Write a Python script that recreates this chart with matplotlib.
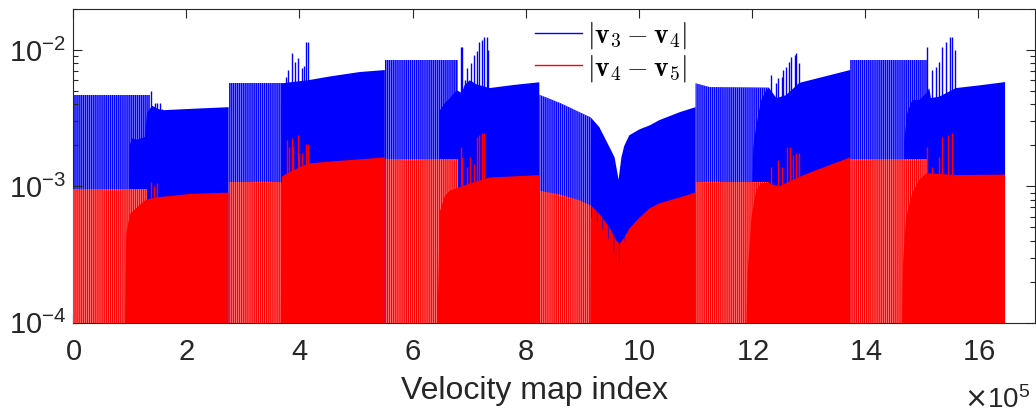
import numpy as np
import matplotlib
matplotlib.use("Agg")
import matplotlib.pyplot as plt
from matplotlib.lines import Line2D
from matplotlib.ticker import ScalarFormatter

plt.rcParams['font.family'] = ['Liberation Sans', 'DejaVu Sans']
plt.rcParams['hatch.linewidth'] = 0.5

nan = np.nan
X_UNIT = 1e5  # x positions below are read in units of 1e5

# ---------- |v3 - v4| (blue) ----------
# sparse spike bands (upper edge), nan separates the segments
blue_stripe_x = [0.0, 1.36, nan, 2.75, 3.69, nan, 5.51, 6.80, nan,
                 8.24, 8.60, 8.95, 9.15, nan, 11.0, 11.25, 12.30, nan, 13.73, 15.09]
blue_stripe_top = [4.7e-3, 4.7e-3, nan, 5.75e-3, 5.75e-3, nan, 8.5e-3, 8.5e-3, nan,
                   4.7e-3, 4.1e-3, 3.5e-3, 3.2e-3, nan, 5.7e-3, 5.35e-3, 5.3e-3, nan, 8.5e-3, 8.5e-3]

# dense band (upper edge)
blue_solid_x = [0.96, 1.00, 1.04, 1.13, 1.27, 1.31, 1.40, 1.50, 1.59, 2.07, 2.75, nan,
                3.67, 3.69, 4.15, 4.54, 5.07, 5.51, nan,
                6.44, 6.48, 6.57, 6.66, 6.78, 6.87, 6.92, 7.01, 7.13, 7.36, 7.80, 8.24, nan,
                9.14, 9.15, 9.30, 9.48, 9.57, 9.64, 9.69, 9.74, 9.83, 10.01, 10.19, 10.36, 10.72, 11.0, nan,
                11.90, 11.92, 11.99, 12.02, 12.07, 12.16, 12.25, 12.30, 12.43, 12.60, 12.83, 12.89, 13.24, 13.73, nan,
                14.65, 14.67, 14.69, 14.74, 14.83, 14.95, 15.08, 15.13, 15.16, 15.31, 15.43, 15.60, 16.01, 16.47]
blue_solid_top = [1e-4, 2.0e-3, 2.25e-3, 2.2e-3, 2.3e-3, 3.5e-3, 3.9e-3, 3.7e-3, 3.62e-3, 3.7e-3, 3.81e-3, nan,
                  1e-4, 5.7e-3, 6.0e-3, 6.4e-3, 6.9e-3, 7.13e-3, nan,
                  1e-4, 3.6e-3, 4.08e-3, 4.44e-3, 5.08e-3, 4.83e-3, 5.53e-3, 6.0e-3, 5.6e-3, 5.26e-3, 5.55e-3, 5.8e-3, nan,
                  1e-4, 3.2e-3, 2.72e-3, 1.94e-3, 1.63e-3, 1.12e-3, 1.63e-3, 1.98e-3, 2.37e-3, 2.62e-3, 2.8e-3, 3.06e-3, 3.5e-3, 3.81e-3, nan,
                  1e-4, 2.3e-4, 7.0e-4, 1.94e-3, 2.72e-3, 4.29e-3, 5.08e-3, 5.26e-3, 4.44e-3, 4.67e-3, 5.72e-3, 5.82e-3, 6.33e-3, 7.13e-3, nan,
                  1e-4, 4.5e-4, 2.18e-3, 3.44e-3, 4.29e-3, 4.29e-3, 4.83e-3, 5.26e-3, 4.44e-3, 4.55e-3, 4.83e-3, 5.26e-3, 5.5e-3, 5.82e-3]

# isolated tall spikes in the transitions
blue_spike_x = [1.37, 1.45, 1.49, 1.54, 1.57,
                3.76, 3.80, 3.87, 3.92, 3.97, 4.04, 4.08, 4.11, 4.15,
                6.85, 6.88, 6.92, 6.97, 7.04, 7.08, 7.13, 7.17, 7.22, 7.26, 7.31, 7.34,
                12.34, 12.43, 12.46, 12.52, 12.55, 12.60, 12.66, 12.69, 12.75, 12.78, 12.82,
                15.09, 15.18, 15.25, 15.30, 15.36, 15.43, 15.50, 15.53, 15.59]
blue_spike_top = [5.0e-3, 4.1e-3, 4.1e-3, 4.1e-3, 3.7e-3,
                  6.33e-3, 7.13e-3, 9.5e-3, 8.2e-3, 8.8e-3, 7.37e-3, 7.7e-3, 1.145e-2, 1.145e-2,
                  1.05e-2, 1.05e-2, 6.0e-3, 7.37e-3, 8.02e-3, 9.2e-3, 9.85e-3, 1.145e-2, 1.18e-2, 1.25e-2, 1.25e-2, 1.0e-2,
                  6.55e-3, 5.72e-3, 6.2e-3, 6.33e-3, 7.13e-3, 7.5e-3, 8.2e-3, 8.9e-3, 9.2e-3, 9.5e-3, 8.0e-3,
                  1.05e-2, 7.13e-3, 7.5e-3, 8.2e-3, 1.05e-2, 1.145e-2, 1.25e-2, 1.25e-2, 1.0e-2]

# blue reaching below the red band around the dip
blue_dip_x = [9.14, 9.30, 9.48, 9.60, 9.64, 9.70, 9.76]
blue_dip_top = [7.25e-4, 6.3e-4, 5.0e-4, 4.0e-4, 3.9e-4, 4.1e-4, 4.3e-4]
blue_dip_low = [6.0e-4, 5.3e-4, 4.0e-4, 3.0e-4, 2.6e-4, 3.3e-4, 4.2e-4]

# ---------- |v4 - v5| (red) ----------
red_stripe_x = [0.0, 1.31, nan, 2.75, 3.69, nan, 5.51, 6.80, nan,
                8.24, 8.60, 8.95, 9.15, nan, 11.0, 12.30, nan, 13.73, 15.09]
red_stripe_top = [9.5e-4, 9.5e-4, nan, 1.07e-3, 1.07e-3, nan, 1.6e-3, 1.6e-3, nan,
                  9.3e-4, 8.7e-4, 7.9e-4, 7.25e-4, nan, 1.07e-3, 1.07e-3, nan, 1.6e-3, 1.6e-3]

red_solid_x = [0.92, 0.94, 1.01, 1.13, 1.27, 1.36, 1.48, 2.07, 2.75, nan,
               3.67, 3.69, 3.87, 4.15, 4.54, 5.07, 5.51, nan,
               6.44, 6.48, 6.57, 6.66, 6.87, 7.01, 7.36, 8.24, nan,
               9.14, 9.15, 9.30, 9.48, 9.60, 9.66, 9.74, 9.83, 10.01, 10.19, 10.36, 10.72, 11.0, nan,
               11.90, 11.92, 11.99, 12.07, 12.16, 12.27, 12.36, 12.48, 12.87, 13.06, 13.73, nan,
               14.65, 14.67, 14.72, 14.83, 14.95, 15.08, 15.60, 16.47]
red_solid_top = [1e-4, 4.5e-4, 6.3e-4, 7.0e-4, 7.9e-4, 8.1e-4, 8.3e-4, 8.8e-4, 9.0e-4, nan,
                 1e-4, 1.18e-3, 1.3e-3, 1.47e-3, 1.52e-3, 1.58e-3, 1.63e-3, nan,
                 1e-4, 6.5e-4, 8.5e-4, 9.3e-4, 1.0e-3, 1.05e-3, 1.16e-3, 1.21e-3, nan,
                 1e-4, 7.25e-4, 6.3e-4, 5.0e-4, 4.0e-4, 3.8e-4, 4.2e-4, 4.9e-4, 5.9e-4, 6.9e-4, 7.5e-4, 8.3e-4, 9.0e-4, nan,
                 1e-4, 2.3e-4, 6.0e-4, 9.3e-4, 1.05e-3, 1.07e-3, 1.03e-3, 1.0e-3, 1.19e-3, 1.28e-3, 1.63e-3, nan,
                 1e-4, 2.9e-4, 5.9e-4, 8.9e-4, 1.11e-3, 1.25e-3, 1.21e-3, 1.22e-3]

red_spike_x = [1.37, 1.43, 1.48,
               3.78, 3.82, 3.87, 3.89, 3.97, 3.99, 4.04, 4.11, 4.15,
               6.85, 6.88, 6.96, 7.01, 7.08, 7.13, 7.17, 7.22, 7.27,
               12.34, 12.46, 12.52, 12.62, 12.67, 12.73, 12.78, 12.82,
               15.09, 15.18, 15.30, 15.36, 15.46, 15.53]
red_spike_top = [1.07e-3, 1.0e-3, 1.05e-3,
                 2.18e-3, 1.94e-3, 2.25e-3, 1.97e-3, 2.37e-3, 1.75e-3, 1.75e-3, 2.06e-3, 2.06e-3,
                 1.94e-3, 1.63e-3, 1.38e-3, 1.63e-3, 1.45e-3, 2.3e-3, 2.37e-3, 2.45e-3, 2.45e-3,
                 1.38e-3, 1.55e-3, 1.38e-3, 1.94e-3, 1.94e-3, 1.7e-3, 1.75e-3, 1.75e-3,
                 1.94e-3, 1.38e-3, 1.63e-3, 2.3e-3, 2.37e-3, 2.45e-3]

labels = [r'$|\mathbf{v}_3-\mathbf{v}_4|$', r'$|\mathbf{v}_4-\mathbf{v}_5|$']

BOTTOM = 1e-5
STRIPES = '|' * 8
INK = '#262626'


def xs(vals):
    return np.array(vals, dtype=float) * X_UNIT


fig = plt.figure(figsize=(10.36, 4.16), dpi=100)
ax = fig.add_axes([0.0705, 0.2243, 0.9286, 0.7541])

# blue series
ax.fill_between(xs(blue_stripe_x), BOTTOM, blue_stripe_top, facecolor='blue',
                edgecolor='#9a9aff', hatch=STRIPES, linewidth=0, zorder=1)
ax.fill_between(xs(blue_solid_x), BOTTOM, blue_solid_top, facecolor='blue',
                linewidth=0, zorder=2)
ax.vlines(xs(blue_spike_x), BOTTOM, blue_spike_top, color='blue', lw=1.0, zorder=2)

# red series
ax.fill_between(xs(red_stripe_x), BOTTOM, red_stripe_top, facecolor='red',
                edgecolor='#ff9a9a', hatch=STRIPES, linewidth=0, zorder=3)
ax.fill_between(xs(red_solid_x), BOTTOM, red_solid_top, facecolor='red',
                linewidth=0, zorder=4)
ax.vlines(xs(red_spike_x), BOTTOM, red_spike_top, color='red', lw=1.0, zorder=4)

ax.fill_between(xs(blue_dip_x), blue_dip_low, blue_dip_top, facecolor='none',
                edgecolor='blue', hatch='|||', linewidth=0, zorder=5)

ax.set_yscale('log')
ax.set_ylim(1e-4, 2e-2)
ax.set_xlim(0, 17e5)
ax.set_xticks(np.arange(0, 17e5, 2e5))

fmt = ScalarFormatter(useMathText=True)
fmt.set_powerlimits((5, 5))
ax.xaxis.set_major_formatter(fmt)
ax.xaxis.get_offset_text().set_visible(False)
fig.text(1030 / 1036, 1 - 400 / 416, r'$\times\mathdefault{10^{5}}$', fontsize=20,
         color=INK, ha='right', va='center')

ax.tick_params(which='both', direction='in', top=True, right=True,
               colors=INK, labelsize=21, width=0.8)
ax.tick_params(which='major', length=6.5)
ax.tick_params(which='minor', length=3.6)
ax.tick_params(axis='x', pad=11)
ax.tick_params(axis='y', pad=5)
for sp in ax.spines.values():
    sp.set_color(INK)
    sp.set_linewidth(0.8)

ax.set_xlabel('Velocity map index', fontsize=23, color=INK, labelpad=6)
ax.xaxis.set_label_coords((534 - 73) / 962, -0.17)

handles = [Line2D([], [], color='blue', lw=1.0), Line2D([], [], color='red', lw=1.0)]
ax.legend(handles, labels, loc='center', bbox_to_anchor=(611 / 1036, 1 - 52 / 416),
          bbox_transform=fig.transFigure, frameon=False,
          prop={'size': 20, 'math_fontfamily': 'cm'},
          handlelength=1.7, handletextpad=0.2, labelspacing=0.05, borderpad=0.1)

fig.savefig('out.png', dpi=100)
